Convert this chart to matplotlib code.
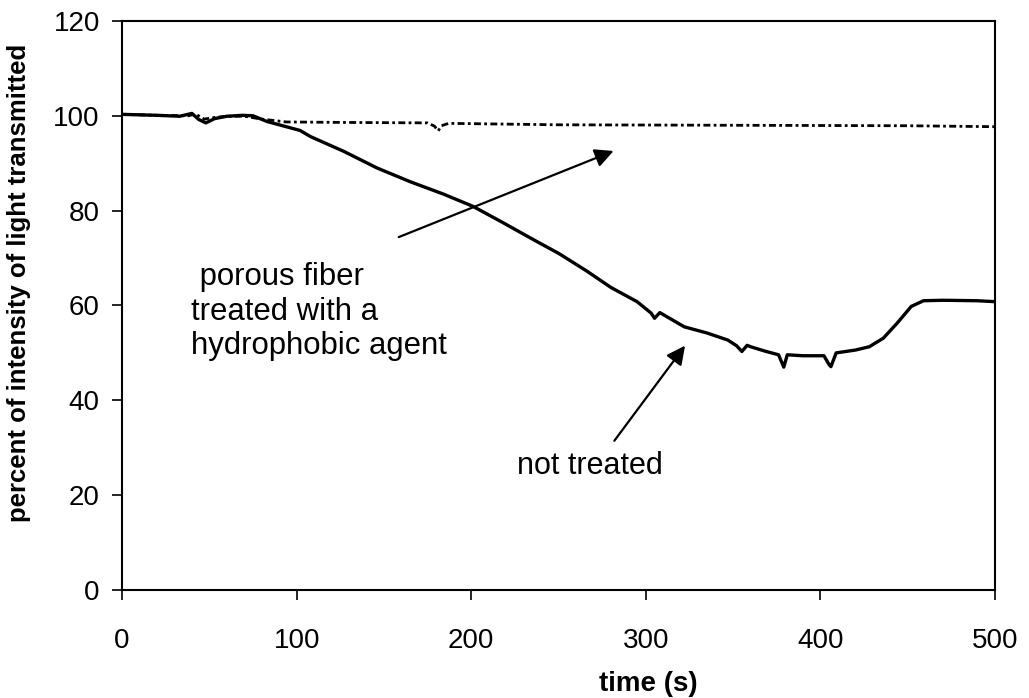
import matplotlib
matplotlib.use("Agg")
import matplotlib.pyplot as plt

plt.rcParams['font.family'] = ['Liberation Sans', 'DejaVu Sans']

# not treated fiber (solid line)
time_nt = [0, 20, 33, 40, 44, 48, 53, 60, 69, 75, 83, 92, 102, 108, 127, 146,
           165, 184, 201, 218, 236, 250, 266, 280, 295, 303, 305, 308, 322, 335,
           347, 352, 355, 358, 360, 368, 376, 379, 381, 390, 402, 405, 406, 409,
           420, 428, 436, 444, 452, 459, 470, 490, 500]
val_nt = [100.3, 100.1, 99.9, 100.5, 99.2, 98.5, 99.4, 99.9, 100.1, 100.0, 98.8,
          97.9, 96.9, 95.6, 92.5, 89.0, 86.1, 83.5, 80.9, 77.5, 73.8, 71.0, 67.3,
          63.8, 60.8, 58.4, 57.3, 58.5, 55.5, 54.2, 52.7, 51.5, 50.3, 51.6, 51.3,
          50.4, 49.6, 47.0, 49.6, 49.4, 49.4, 47.5, 47.1, 50.0, 50.6, 51.3, 53.1,
          56.3, 59.8, 61.0, 61.1, 61.0, 60.8]

# porous fiber treated with a hydrophobic agent (dash-dot line)
time_t = [0, 20, 38, 42, 47, 52, 60, 70, 80, 94, 127, 175, 179, 181, 183, 187,
          250, 350, 450, 500]
val_t = [100.3, 100.1, 100.0, 100.4, 99.3, 99.6, 99.9, 99.9, 99.3, 98.7, 98.6,
         98.5, 97.8, 96.8, 97.9, 98.4, 98.1, 98.0, 97.9, 97.7]

xticks = [0, 100, 200, 300, 400, 500]
yticks = [0, 20, 40, 60, 80, 100, 120]

fig = plt.figure(figsize=(10.29, 6.98), dpi=100)
ax = fig.add_axes([0.1186, 0.1547, 0.8484, 0.8153])

ax.plot(time_t, val_t, color='black', lw=2.0, linestyle=(0, (2.5, 1.2, 1, 1.2)))
ax.plot(time_nt, val_nt, color='black', lw=2.4)

ax.set_xlim(0, 500)
ax.set_ylim(0, 120)
ax.set_xticks(xticks)
ax.set_yticks(yticks)
ax.tick_params(axis='both', direction='out', length=7, width=1.2, labelsize=20)
ax.tick_params(axis='x', pad=20)
ax.tick_params(axis='y', pad=9)
for s in ax.spines.values():
    s.set_linewidth(1.5)

ax.set_xlabel('time (s)', fontsize=20, fontweight='bold')
ax.xaxis.set_label_coords(0.6025, -0.142)
ax.set_ylabel('percent of intensity of light transmitted', fontsize=18.5,
              fontweight='bold')
ax.yaxis.set_label_coords(-0.104, 0.54)

arrow = dict(arrowstyle='-|>', color='black', lw=1.6, mutation_scale=28)
ax.annotate('', xy=(283, 92.8), xytext=(157, 74.2), arrowprops=arrow)
ax.annotate('', xy=(323.4, 52.0), xytext=(281, 31), arrowprops=arrow)

ax.text(39.5, 58.7, ' porous fiber\ntreated with a\nhydrophobic agent', fontsize=22.4,
        ha='left', va='center', linespacing=1.2)
ax.text(226, 26.2, 'not treated', fontsize=22, ha='left', va='center')

fig.savefig('out.png', dpi=100)
